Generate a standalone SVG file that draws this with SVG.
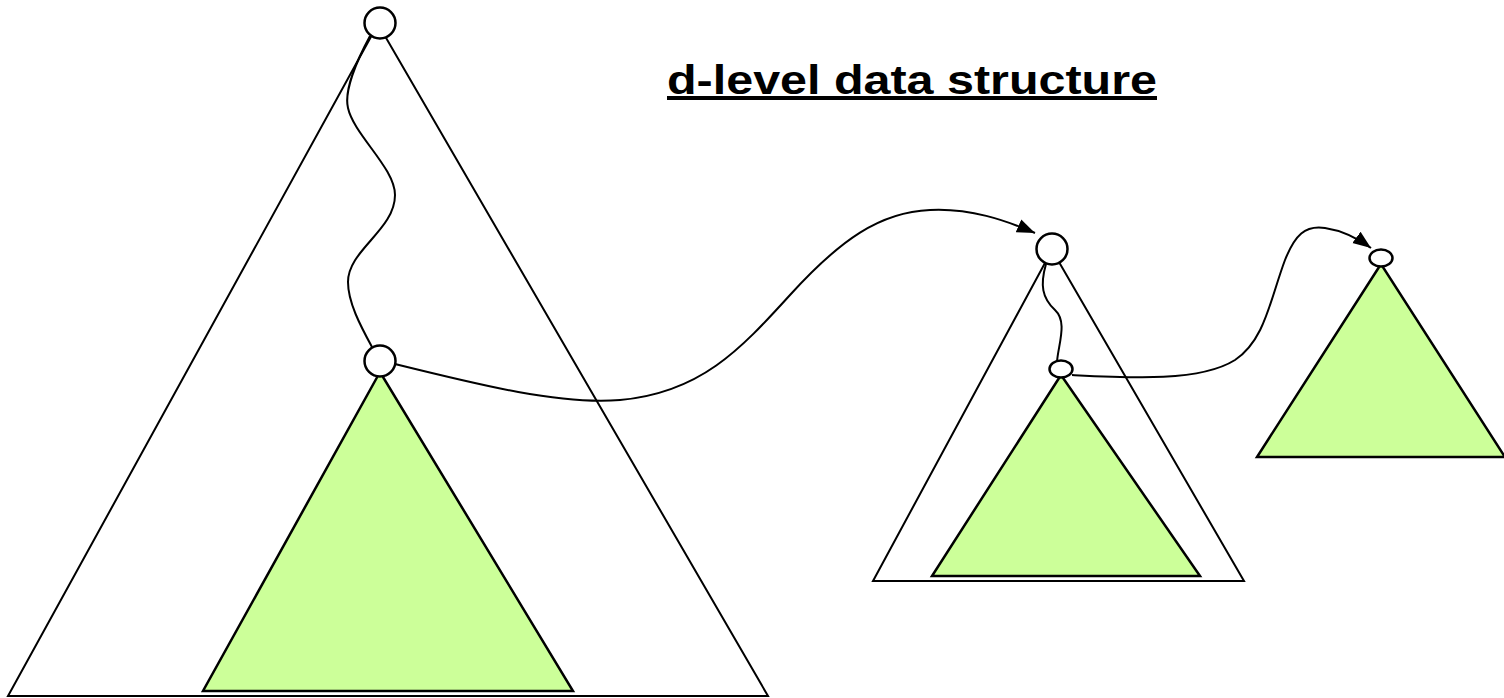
<svg xmlns="http://www.w3.org/2000/svg" width="1504" height="698" viewBox="0 0 1504 698">
<defs>
<style>
.outline{fill:none;stroke:#000;stroke-width:2;stroke-linejoin:miter}
.green{fill:#CCFF99;stroke:#000;stroke-width:2.5}
.node{fill:#fff;stroke:#000;stroke-width:2.5}
.wave{fill:none;stroke:#000;stroke-width:2}
.conn{fill:none;stroke:#000;stroke-width:2}
.title{font-family:"Liberation Sans",Arial,sans-serif;font-weight:bold;font-size:40px;fill:#000;text-decoration:underline}
</style>
<marker id="arrow" markerUnits="userSpaceOnUse" markerWidth="20" markerHeight="16" refX="18" refY="8" orient="auto">
<path d="M0,1 L18,8 L0,15 Z" fill="#000"/>
</marker>
</defs>
<rect width="1504" height="698" fill="#fff"/>
<text class="title" x="667" y="94" textLength="490" lengthAdjust="spacingAndGlyphs">d-level data structure</text>
<g id="big-tree">
<polygon class="outline" points="378,24 8,696 768,696"/>
<polygon class="green" points="380,372 203,691 573,691"/>
<path class="wave" d="M370,36 C356,62 344,92 348,108 C354,135 395,168 395,195 C395,230 348,250 348,282 C348,302 360,325 372,347"/>
</g>
<g id="mid-tree">
<polygon class="outline" points="1052,250 873,581 1244,581"/>
<polygon class="green" points="1061,375 932,576 1200,576"/>
<path class="wave" d="M1046,264 C1040,285 1042,298 1055,310 C1068,322 1058,345 1057,362"/>
</g>
<g id="right-tree">
<polygon class="green" points="1381,264 1257,457 1505,457"/>
</g>
<g id="connectors">
<path class="conn" marker-end="url(#arrow)" d="M395,364 C480,385 560,405 620,400 C700,393 740,350 790,295 C840,240 880,212 930,210 C970,208 1005,220 1035,233"/>
<path class="conn" marker-end="url(#arrow)" d="M1072,375 C1130,378 1200,382 1235,360 C1265,340 1270,300 1285,260 C1295,235 1305,225 1325,228 C1345,231 1360,240 1371,248"/>
</g>
<g id="node-root"><circle class="node" cx="380" cy="23" r="15.5"/></g>
<g id="node-mid"><circle class="node" cx="380" cy="361" r="15.5"/></g>
<g id="node-sub-root"><circle class="node" cx="1052" cy="249" r="15.5"/></g>
<g id="node-sub-mid"><ellipse class="node" cx="1061" cy="369" rx="11.5" ry="8.5"/></g>
<g id="node-last"><ellipse class="node" cx="1381" cy="258" rx="11.5" ry="8.5"/></g>
</svg>
